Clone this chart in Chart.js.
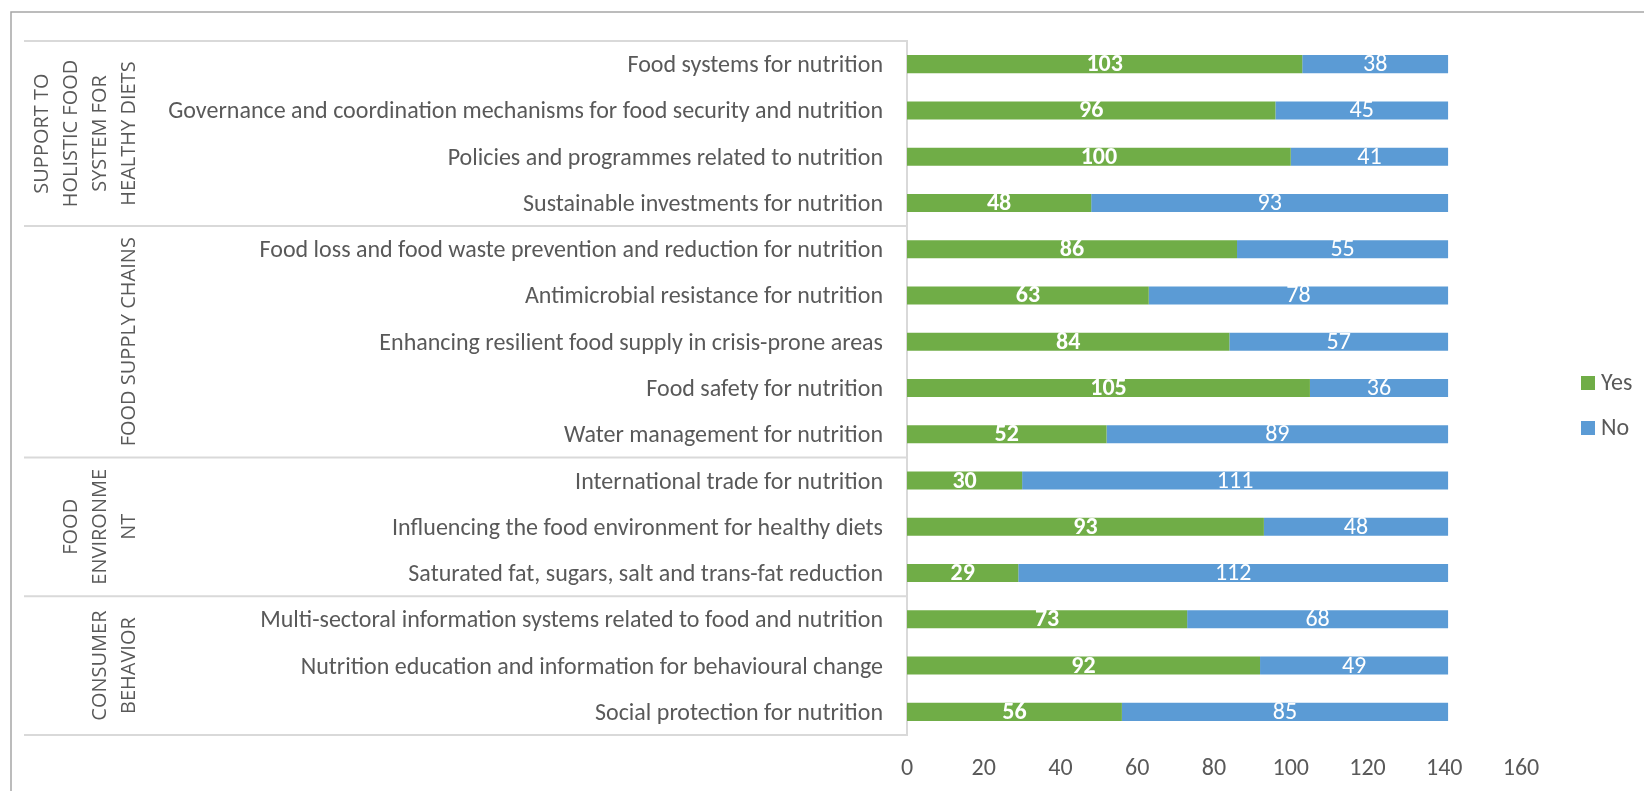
<!DOCTYPE html>
<html>
<head>
<meta charset="utf-8">
<script src="https://cdn.jsdelivr.net/npm/chart.js@4/dist/chart.umd.min.js"></script>
<style>
  html, body { margin: 0; padding: 0; background: #fff; }
  #wrap { width: 1644px; height: 791px; position: relative; }
</style>
</head>
<body>
<div id="wrap"><canvas id="nutritionChart"></canvas></div>
<script>
// Data
const categories = [
    'Food systems for nutrition',
    'Governance and coordination mechanisms for food security and nutrition',
    'Policies and programmes related to nutrition',
    'Sustainable investments for nutrition',
    'Food loss and food waste prevention and reduction for nutrition',
    'Antimicrobial resistance for nutrition',
    'Enhancing resilient food supply in crisis-prone areas',
    'Food safety for nutrition',
    'Water management for nutrition',
    'International trade for nutrition',
    'Influencing the food environment for healthy diets',
    'Saturated fat, sugars, salt and trans-fat reduction',
    'Multi-sectoral information systems related to food and nutrition',
    'Nutrition education and information for behavioural change',
    'Social protection for nutrition'
];
const yesValues = [103, 96, 100, 48, 86, 63, 84, 105, 52, 30, 93, 29, 73, 92, 56];
const noValues = [38, 45, 41, 93, 55, 78, 57, 36, 89, 111, 48, 112, 68, 49, 85];
const seriesNames = ['Yes', 'No'];

// Category groups (label lines, number of categories in group)
const groupLabels = [
    ['SUPPORT TO', 'HOLISTIC FOOD', 'SYSTEM FOR', 'HEALTHY DIETS'],
    ['FOOD SUPPLY CHAINS'],
    ['FOOD', 'ENVIRONME', 'NT'],
    ['CONSUMER', 'BEHAVIOR']
];
const groupSizes = [4, 5, 3, 3];

const xMin = 0;
const xMax = 160;
const xStep = 20;

const GREEN = '#70AD47';
const BLUE = '#5B9BD5';
const TEXT = '#595959';
const LINE = '#d9d9d9';
const LABEL_FONT = "Carlito, 'Liberation Sans Narrow', 'DejaVu Sans Condensed', sans-serif";
const GROUP_FONT = "'Open Sans', 'DejaVu Sans', sans-serif";

// Frame, group separators and group labels
const groupPlugin = {
    id: 'groupPlugin',
    beforeDraw(chart) {
        const ctx = chart.ctx;
        ctx.save();
        ctx.fillStyle = '#fff';
        ctx.fillRect(0, 0, chart.width, chart.height);
        // outer frame
        ctx.strokeStyle = '#a6a6a6';
        ctx.lineWidth = 1.5;
        ctx.beginPath();
        ctx.moveTo(11, chart.height);
        ctx.lineTo(11, 12);
        ctx.lineTo(chart.width, 12);
        ctx.stroke();
        ctx.restore();
    },
    afterDraw(chart) {
        const ctx = chart.ctx;
        const yScale = chart.scales.y;
        const area = chart.chartArea;
        const band = yScale.getPixelForValue(1) - yScale.getPixelForValue(0);

        ctx.save();
        ctx.strokeStyle = LINE;
        ctx.lineWidth = 2;

        let start = 0;
        const bounds = [area.top];
        groupSizes.forEach(size => {
            start += size;
            bounds.push(yScale.getPixelForValue(start - 1) + band / 2);
        });
        bounds.forEach(y => {
            ctx.beginPath();
            ctx.moveTo(24, y);
            ctx.lineTo(area.left, y);
            ctx.stroke();
        });

        // rotated group labels
        ctx.fillStyle = TEXT;
        ctx.font = '20px ' + GROUP_FONT;
        ctx.textAlign = 'center';
        ctx.textBaseline = 'middle';
        const lastLineX = 128;
        const lineGap = 29;
        groupLabels.forEach((lines, g) => {
            const cy = (bounds[g] + bounds[g + 1]) / 2;
            const n = lines.length;
            lines.forEach((txt, i) => {
                const cx = lastLineX - (n - 1 - i) * lineGap;
                ctx.save();
                ctx.translate(cx, cy);
                ctx.rotate(-Math.PI / 2);
                ctx.fillText(txt, 0, 1);
                ctx.restore();
            });
        });
        ctx.restore();
    }
};

// Value labels inside the bars
const valueLabels = {
    id: 'valueLabels',
    afterDatasetsDraw(chart) {
        const ctx = chart.ctx;
        ctx.save();
        ctx.fillStyle = '#fff';
        ctx.textAlign = 'center';
        ctx.textBaseline = 'middle';
        chart.data.datasets.forEach((ds, di) => {
            const meta = chart.getDatasetMeta(di);
            ctx.font = (di === 0 ? 'bold ' : '') + '24px ' + LABEL_FONT;
            meta.data.forEach((bar, i) => {
                const cx = (bar.x + bar.base) / 2;
                ctx.fillText(String(ds.data[i]), cx, bar.y + 1);
            });
        });
        ctx.restore();
    }
};

// Legend on the right
const sideLegend = {
    id: 'sideLegend',
    afterDraw(chart) {
        const ctx = chart.ctx;
        ctx.save();
        ctx.font = '24px ' + LABEL_FONT;
        ctx.textBaseline = 'middle';
        ctx.textAlign = 'left';
        chart.data.datasets.forEach((ds, i) => {
            const y = 383 + i * 45;
            ctx.fillStyle = ds.backgroundColor;
            ctx.fillRect(1581, y - 7, 14, 14);
            ctx.fillStyle = TEXT;
            ctx.fillText(ds.label, 1601, y + 1);
        });
        ctx.restore();
    }
};

const ctx = document.getElementById('nutritionChart');
new Chart(ctx, {
    type: 'bar',
    data: {
        labels: categories,
        datasets: [
            {
                label: seriesNames[0],
                data: yesValues,
                backgroundColor: GREEN,
                barPercentage: 0.39,
                categoryPercentage: 1
            },
            {
                label: seriesNames[1],
                data: noValues,
                backgroundColor: BLUE,
                barPercentage: 0.39,
                categoryPercentage: 1
            }
        ]
    },
    options: {
        indexAxis: 'y',
        responsive: true,
        maintainAspectRatio: false,
        animation: false,
        layout: {
            padding: { top: 41, right: 123, bottom: 0, left: 0 }
        },
        plugins: {
            legend: { display: false },
            tooltip: { enabled: false }
        },
        scales: {
            x: {
                stacked: true,
                min: xMin,
                max: xMax,
                ticks: {
                    stepSize: xStep,
                    color: TEXT,
                    padding: 20,
                    font: { family: LABEL_FONT, size: 24 }
                },
                grid: { display: false, drawTicks: false },
                border: { display: false },
                afterFit: function(scale) { scale.height = 56; }
            },
            y: {
                stacked: true,
                ticks: {
                    color: TEXT,
                    padding: 24,
                    labelOffset: 2,
                    autoSkip: false,
                    font: { family: LABEL_FONT, size: 24 }
                },
                grid: { display: false, drawTicks: false },
                border: { display: true, color: LINE, width: 2 },
                afterFit: function(scale) { scale.width = 907; }
            }
        }
    },
    plugins: [groupPlugin, valueLabels, sideLegend]
});
</script>
</body>
</html>
